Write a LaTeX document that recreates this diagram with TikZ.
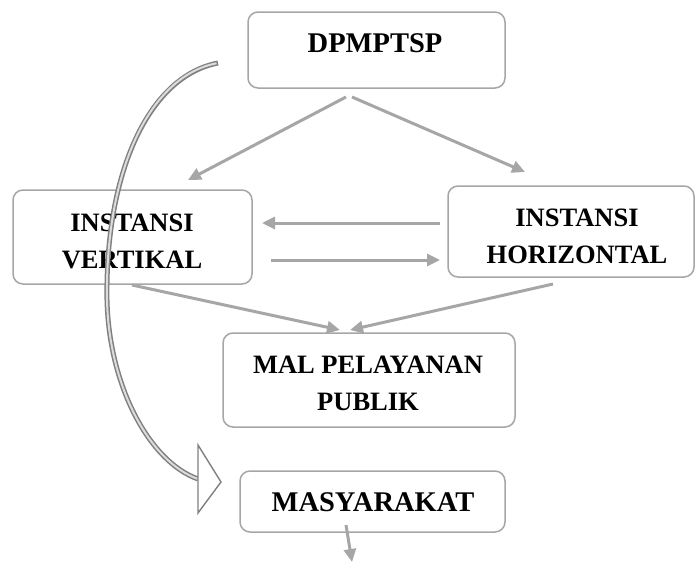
\documentclass[tikz,border=0pt]{standalone}
\usepackage{fontspec}
\setmainfont{Liberation Serif}
\usetikzlibrary{arrows.meta}
\definecolor{boxgray}{HTML}{A6A6A6}
\definecolor{curvegray}{HTML}{808080}
\definecolor{curvelight}{HTML}{DCDCDC}
\begin{document}
\begin{tikzpicture}[x=1pt,y=-1pt,
  box/.style={draw=boxgray, line width=1.5pt, rounded corners=10pt, fill=white, inner sep=0pt},
  lbl/.style={font=\bfseries\fontsize{26.5}{37}\selectfont, align=center, inner sep=0pt},
  biglbl/.style={font=\bfseries\fontsize{28.5}{37}\selectfont, align=center, inner sep=0pt},
  conn/.style={draw=boxgray, line width=3pt, -{Triangle[length=13pt,width=12pt]}},
]
\useasboundingbox (0,0) rectangle (696,562);
% boxes
\node[box, minimum width=257pt, minimum height=76pt] (dp) at (376.5,50) {};
\node[box, minimum width=239pt, minimum height=94pt] (iv) at (132.5,237) {};
\node[box, minimum width=246pt, minimum height=91pt] (ih) at (571,231.5) {};
\node[box, minimum width=292pt, minimum height=94pt] (mal) at (369,380) {};
\node[box, minimum width=265pt, minimum height=61pt] (mas) at (372.5,501.5) {};
% labels
\node[biglbl] (dpt) at (375,43) {DPMPTSP};
\node[lbl] (ivt) at (132,241.5) {INSTANSI\\VERTIKAL};
\node[lbl] (iht) at (577,236.5) {INSTANSI\\HORIZONTAL};
\node[lbl] (malt) at (368,383) {MAL PELAYANAN\\PUBLIK};
\node[biglbl] (mast) at (373,502) {MASYARAKAT};
% connector end points
\coordinate (dpL) at (346,97);
\coordinate (dpR) at (352,97);
\coordinate (ivIn) at (188,180);
\coordinate (ihIn) at (525,172);
\coordinate (ihOutTop) at (440,223);
\coordinate (ivInRight) at (262,223);
\coordinate (ivOutRight) at (271,260);
\coordinate (ihInLeft) at (440,260);
\coordinate (ivOut) at (132,285);
\coordinate (malInL) at (340,330);
\coordinate (ihOut) at (553,284);
\coordinate (malInR) at (350,330);
\coordinate (masOut) at (346,525);
\coordinate (bottomEnd) at (352,562);
% connectors
\draw[conn] (dpL) -- (ivIn);
\draw[conn] (dpR) -- (ihIn);
\draw[conn] (ihOutTop) -- (ivInRight);
\draw[conn] (ivOutRight) -- (ihInLeft);
\draw[conn] (ivOut) -- (malInL);
\draw[conn] (ihOut) -- (malInR);
\draw[conn] (masOut) -- (bottomEnd);
% curved arrow
\coordinate (cStart) at (218,63);
\coordinate (cMid) at (107,300);
\coordinate (cEnd) at (198,479);
\draw[curvegray, line width=5pt] (cStart) .. controls (150,76) and (105,170) .. (cMid) .. controls (109,387) and (150,462) .. (cEnd);
\draw[curvelight, line width=2pt, shorten <=1.5pt] (cStart) .. controls (150,76) and (105,170) .. (cMid) .. controls (109,387) and (150,462) .. (cEnd);
\draw[curvegray, line width=1.4pt, fill=white, line join=miter] (198,445) -- (221,482) -- (198,513) -- cycle;
\end{tikzpicture}
\end{document}
